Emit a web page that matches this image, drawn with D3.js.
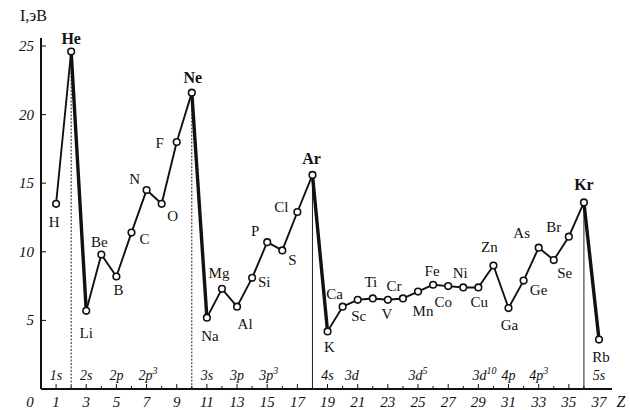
<!DOCTYPE html>
<html>
<head>
<meta charset="utf-8">
<script src="https://cdn.jsdelivr.net/npm/d3@7"></script>
<style>
  body { margin: 0; background: #fff; }
  svg text { font-family: "Liberation Serif", "DejaVu Serif", serif; fill: #111; }
</style>
</head>
<body>
<div id="chart"></div>
<script>
// atomic numbers and first ionisation energies (eV)
var elements = ["H","He","Li","Be","B","C","N","O","F","Ne","Na","Mg","Al","Si","P","S","Cl","Ar",
    "K","Ca","Sc","Ti","V","Cr","Mn","Fe","Co","Ni","Cu","Zn","Ga","Ge","As","Se","Br","Kr","Rb"];
var energy = [13.5, 24.6, 5.7, 9.8, 8.2, 11.4, 14.5, 13.5, 18.0, 21.6, 5.2, 7.3, 6.0, 8.1, 10.7, 10.1, 12.9, 15.6,
    4.2, 6.0, 6.5, 6.6, 6.5, 6.6, 7.1, 7.6, 7.5, 7.4, 7.4, 9.0, 5.9, 7.9, 10.3, 9.4, 11.1, 13.6, 3.6];
var nobleGases = [2, 10, 18, 36];

var shellLabels = ["1s", "2s", "2p", "2p", "3s", "3p", "3p", "4s", "3d", "3d", "3d", "4p", "4p", "5s"];
var shellSup    = ["",   "",   "",   "3",  "",   "",   "3",  "",   "",   "5",  "10", "",   "3",  ""];
var shellZ      = [1, 3, 5, 7.1, 11, 13, 15.1, 19, 20.6, 25, 29.4, 31, 33, 37];

var yTicks = [5, 10, 15, 20, 25];
var xTickLabels = d3.range(1, 38, 2);

// label placement around each point (dx, dy) - layout only
var labelOffset = [[-2,18],[0,-12],[0,22],[-2,-13],[2,14],[13,6],[-12,-11],[11,12],[-17,1],[1,-15],
    [3,18],[-3,-16],[8,17],[12,4],[-12,-11],[10,10],[-16,-5],[-1,-16],
    [2,16],[-8,-13],[1,16],[-2,-16],[-1,14],[-9,-12],[5,19],[-1,-14],[-5,16],[-3,-14],[1,15],[-4,-19],
    [1,17],[15,9],[-17,-15],[11,13],[-15,-10],[0,-17],[2,17]];

var width = 630, height = 410;
var svg = d3.select("#chart").append("svg")
    .attr("width", width)
    .attr("height", height);

var x = d3.scaleLinear().domain([0, 37]).range([41, 599]);
var y = d3.scaleLinear().domain([0, 25]).range([389, 46]);

var data = elements.map(function(e, i) {
    return {name: e, z: i + 1, val: energy[i], off: labelOffset[i]};
});

// axes
svg.append("line")
    .attr("x1", x(0)).attr("x2", 612)
    .attr("y1", y(0)).attr("y2", y(0))
    .style("stroke", "#111").style("stroke-width", 2);
svg.append("line")
    .attr("x1", x(0)).attr("x2", x(0))
    .attr("y1", y(0)).attr("y2", 38)
    .style("stroke", "#111").style("stroke-width", 2);

svg.selectAll(".xtick")
    .data(d3.range(1, 37))
    .enter().append("line")
    .attr("class", "xtick")
    .attr("x1", function(d) { return x(d); })
    .attr("x2", function(d) { return x(d); })
    .attr("y1", y(0))
    .attr("y2", function(d) { return y(0) - (d % 2 ? 5 : 3); })
    .style("stroke", "#111").style("stroke-width", 1);

svg.selectAll(".xlab")
    .data(xTickLabels)
    .enter().append("text")
    .attr("x", function(d) { return x(d); })
    .attr("y", 407)
    .attr("text-anchor", "middle")
    .style("font-style", "italic")
    .style("font-size", "15px")
    .text(function(d) { return d; });
svg.append("text")
    .attr("x", 30).attr("y", 407)
    .attr("text-anchor", "middle")
    .style("font-style", "italic").style("font-size", "15px")
    .text("0");
svg.append("text")
    .attr("x", 621).attr("y", 407)
    .attr("text-anchor", "middle")
    .style("font-style", "italic").style("font-size", "16px")
    .text("Z");

svg.selectAll(".ytick")
    .data(yTicks)
    .enter().append("line")
    .attr("x1", x(0)).attr("x2", x(0) + 5)
    .attr("y1", function(d) { return y(d); })
    .attr("y2", function(d) { return y(d); })
    .style("stroke", "#111").style("stroke-width", 1);

svg.selectAll(".ylab")
    .data(yTicks)
    .enter().append("text")
    .attr("x", 34)
    .attr("y", function(d) { return y(d) + 5; })
    .attr("text-anchor", "end")
    .style("font-style", "italic")
    .style("font-size", "15px")
    .text(function(d) { return d; });

svg.append("text")
    .attr("x", 20).attr("y", 21)
    .style("font-size", "16px")
    .text("I,эВ");

// vertical guides under the noble gases
svg.selectAll(".guide")
    .data(data.filter(function(d) { return nobleGases.indexOf(d.z) >= 0; }))
    .enter().append("line")
    .attr("x1", function(d) { return x(d.z); })
    .attr("x2", function(d) { return x(d.z); })
    .attr("y1", function(d) { return y(d.val); })
    .attr("y2", y(0))
    .style("stroke", "#222")
    .style("stroke-width", 1)
    .style("stroke-dasharray", function(d) { return d.z < 18 ? "2,1.5" : null; });

// polyline, segment by segment (drops after noble gases drawn heavier)
var segs = d3.pairs(data);
svg.selectAll(".seg")
    .data(segs)
    .enter().append("line")
    .attr("x1", function(d) { return x(d[0].z); })
    .attr("y1", function(d) { return y(d[0].val); })
    .attr("x2", function(d) { return x(d[1].z); })
    .attr("y2", function(d) { return y(d[1].val); })
    .style("stroke", "#111")
    .style("stroke-linecap", "round")
    .style("stroke-width", function(d) { return nobleGases.indexOf(d[0].z) >= 0 ? 3.4 : 1.9; });

svg.selectAll(".pt")
    .data(data)
    .enter().append("circle")
    .attr("cx", function(d) { return x(d.z); })
    .attr("cy", function(d) { return y(d.val); })
    .attr("r", 3.3)
    .style("fill", "#fff")
    .style("stroke", "#111")
    .style("stroke-width", 1.6);

svg.selectAll(".elab")
    .data(data)
    .enter().append("text")
    .attr("x", function(d) { return x(d.z) + d.off[0]; })
    .attr("y", function(d) { return y(d.val) + d.off[1] + 5; })
    .attr("text-anchor", "middle")
    .style("font-size", function(d) { return nobleGases.indexOf(d.z) >= 0 ? "16px" : "15px"; })
    .style("font-weight", function(d) { return nobleGases.indexOf(d.z) >= 0 ? "bold" : "normal"; })
    .text(function(d) { return d.name; });

// electron sub-shell labels along the bottom
var sh = svg.selectAll(".shell")
    .data(shellLabels.map(function(s, i) { return {t: s, sup: shellSup[i], z: shellZ[i]}; }))
    .enter().append("text")
    .attr("x", function(d) { return x(d.z); })
    .attr("y", 380)
    .attr("text-anchor", "middle")
    .style("font-style", "italic")
    .style("font-size", "14px");
sh.append("tspan").text(function(d) { return d.t; });
sh.append("tspan")
    .attr("dy", -6)
    .style("font-size", "10px")
    .text(function(d) { return d.sup; });
</script>
</body>
</html>
